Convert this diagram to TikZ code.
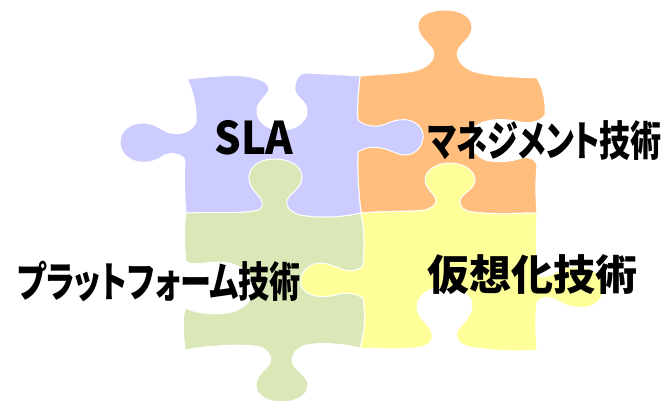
\documentclass[tikz,border=0pt]{standalone}
\usepackage{fontspec}
\usepackage{graphicx}
\newfontfamily\jp[RawFeature=+palt]{Noto Sans CJK JP}
\definecolor{pzlav}{RGB}{204,204,255}
\definecolor{pzorange}{RGB}{255,190,126}
\definecolor{pzgreen}{RGB}{217,232,182}
\definecolor{pzyellow}{RGB}{255,255,153}
\tikzset{
  piece/.style={draw=white, line width=1pt, line join=round},
  label/.style={inner sep=0pt, text=black},
}
% bold caption of a given size, squeezed to a given width
\newcommand{\pzcaption}[3]{\resizebox{#2pt}{\height}{\jp\bfseries\fontsize{#1}{#1}\selectfont #3}}
\begin{document}
\begin{tikzpicture}[x=1pt,y=-1pt]
\useasboundingbox (0,0) rectangle (666,400);

% orange piece (top right): tab on top, socket on the right
\fill[pzorange, piece]
  (360,76) .. controls (380,74) and (405,74) .. (418,70)
  .. controls (430,66) and (436,58) .. (433,50)
  .. controls (428,42) and (418,36) .. (418,26)
  .. controls (418,15) and (430,10) .. (445,10)
  .. controls (460,10) and (472,16) .. (472,27)
  .. controls (472,38) and (462,42) .. (458,50)
  .. controls (455,58) and (462,68) .. (475,72)
  .. controls (495,77) and (520,77) .. (537,78)
  .. controls (543,88) and (546,102) .. (545,115)
  .. controls (540,122) and (530,124) .. (520,122)
  .. controls (505,118) and (480,118) .. (472,130)
  .. controls (466,140) and (472,158) .. (490,161)
  .. controls (505,163) and (515,160) .. (522,158)
  .. controls (530,156) and (536,160) .. (537,165)
  .. controls (535,185) and (536,200) .. (537,213)
  .. controls (520,213) and (495,215) .. (472,212)
  -- (425,210) .. controls (410,212) and (385,211) .. (361,213)
  .. controls (359,195) and (357,175) .. (358,152)
  -- (358,120) .. controls (357,110) and (358,95) .. (360,76) -- cycle;

% lavender piece (top left): tabs left and right, socket on top
\fill[pzlav, piece]
  (187,79) .. controls (215,76) and (235,74) .. (250,77)
  .. controls (262,79) and (272,84) .. (268,92)
  .. controls (262,100) and (255,106) .. (257,113)
  .. controls (259,126) and (272,130) .. (282,130)
  .. controls (295,130) and (308,122) .. (307,110)
  .. controls (306,100) and (296,98) .. (295,90)
  .. controls (294,82) and (298,73) .. (306,73)
  .. controls (325,74) and (345,75) .. (360,76)
  .. controls (358,95) and (357,110) .. (358,120)
  .. controls (365,127) and (378,128) .. (388,123)
  .. controls (395,120) and (402,119) .. (408,120)
  .. controls (418,122) and (424,130) .. (423,138)
  .. controls (422,148) and (414,155) .. (405,155)
  .. controls (398,155) and (393,151) .. (385,149)
  .. controls (375,146) and (365,147) .. (358,152)
  .. controls (357,175) and (359,195) .. (361,213)
  .. controls (345,217) and (320,219) .. (300,215)
  -- (258,210) .. controls (245,214) and (215,212) .. (186,213)
  .. controls (184,190) and (184,170) .. (185,160)
  .. controls (182,154) and (172,152) .. (165,155)
  .. controls (158,160) and (150,163) .. (140,162)
  .. controls (128,161) and (120,152) .. (120,142)
  .. controls (120,131) and (130,123) .. (142,123)
  .. controls (152,123) and (158,127) .. (165,131)
  .. controls (172,135) and (190,136) .. (196,122)
  .. controls (197,108) and (193,90) .. (187,79) -- cycle;

% green piece (bottom left): tabs top and bottom, socket on the left
\fill[pzgreen, piece]
  (186,213) .. controls (215,212) and (245,214) .. (258,210)
  .. controls (266,206) and (262,200) .. (256,193)
  .. controls (250,186) and (247,180) .. (250,172)
  .. controls (254,162) and (265,159) .. (275,159)
  .. controls (288,159) and (302,165) .. (302,177)
  .. controls (302,188) and (290,193) .. (287,200)
  .. controls (285,206) and (290,212) .. (300,215)
  .. controls (320,219) and (345,217) .. (361,213)
  .. controls (364,228) and (365,245) .. (363,265)
  -- (363,298) .. controls (366,315) and (365,330) .. (360,348)
  .. controls (340,343) and (315,342) .. (303,346)
  .. controls (295,350) and (290,356) .. (293,364)
  .. controls (297,372) and (308,376) .. (308,385)
  .. controls (308,396) and (295,402) .. (282,402)
  .. controls (268,402) and (256,396) .. (256,385)
  .. controls (256,375) and (266,370) .. (270,363)
  .. controls (273,355) and (266,347) .. (255,346)
  .. controls (235,344) and (205,346) .. (185,350)
  .. controls (183,330) and (182,315) .. (186,308)
  .. controls (195,313) and (215,316) .. (232,312)
  .. controls (248,307) and (255,297) .. (253,285)
  .. controls (250,270) and (235,262) .. (220,262)
  .. controls (205,262) and (195,266) .. (186,262)
  .. controls (184,245) and (184,225) .. (186,213) -- cycle;

% yellow piece (bottom right): tabs top, left and right, socket below
\fill[pzyellow, piece]
  (361,213) .. controls (385,211) and (410,212) .. (425,210)
  .. controls (435,207) and (438,202) .. (435,197)
  .. controls (430,190) and (425,186) .. (425,180)
  .. controls (425,170) and (437,163) .. (450,163)
  .. controls (463,163) and (475,170) .. (475,180)
  .. controls (475,188) and (465,192) .. (461,198)
  .. controls (458,205) and (462,210) .. (472,212)
  .. controls (495,215) and (520,213) .. (537,213)
  .. controls (536,235) and (536,260) .. (538,275)
  .. controls (545,280) and (550,275) .. (560,270)
  .. controls (570,265) and (590,266) .. (598,274)
  .. controls (606,282) and (605,298) .. (595,304)
  .. controls (585,310) and (570,308) .. (560,302)
  .. controls (550,296) and (542,296) .. (537,302)
  .. controls (535,320) and (536,335) .. (537,350)
  .. controls (515,352) and (485,350) .. (470,347)
  .. controls (458,344) and (455,338) .. (457,332)
  .. controls (460,324) and (472,318) .. (472,305)
  .. controls (472,294) and (458,287) .. (444,287)
  .. controls (430,287) and (417,295) .. (417,307)
  .. controls (417,318) and (430,325) .. (432,333)
  .. controls (434,341) and (428,347) .. (415,348)
  .. controls (395,350) and (375,348) .. (360,348)
  .. controls (365,330) and (366,315) .. (363,298)
  .. controls (355,293) and (345,292) .. (335,295)
  .. controls (325,298) and (305,298) .. (301,285)
  .. controls (298,272) and (310,263) .. (320,263)
  .. controls (330,263) and (337,268) .. (345,270)
  .. controls (353,272) and (360,270) .. (363,265)
  .. controls (365,245) and (364,228) .. (361,213) -- cycle;

% captions
\node[label] (sla)  at (254,138) {\pzcaption{45}{79}{SLA}};
\node[label] (mgmt) at (545,141) {\pzcaption{42}{234}{マネジメント技術}};
\node[label] (plat) at (159,281) {\pzcaption{42}{283}{プラットフォーム技術}};
\node[label] (virt) at (532,275) {\pzcaption{42}{210}{仮想化技術}};
\end{tikzpicture}
\end{document}
